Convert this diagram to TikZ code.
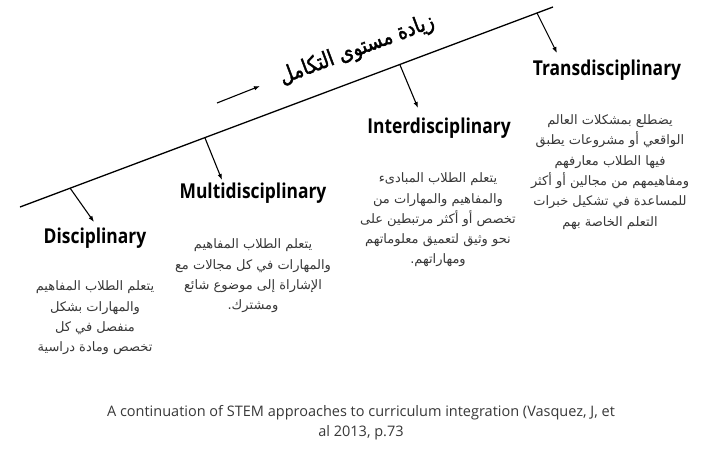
\documentclass[tikz,border=0pt]{standalone}
\usepackage{fontspec}
\usetikzlibrary{arrows.meta}
\TeXXeTstate=1
\newfontfamily\arabicfont[Script=Arabic]{DejaVu Sans}
\newfontfamily\arabicbold[Script=Arabic,FakeBold=1.8,FakeStretch=0.85]{DejaVu Sans}
\newfontfamily\titlefont[FakeStretch=0.85]{Open Sans}
\newfontfamily\capfont{Open Sans}
\definecolor{bodygray}{HTML}{383838}
\newcommand{\rl}[1]{\beginR #1\endR}
\begin{document}
\begin{tikzpicture}[x=1pt,y=-1pt,
  axis/.style={line width=1.3pt},
  tick/.style={line width=1.1pt,-{Latex[length=6pt,width=4.5pt]}},
  heading/.style={font=\titlefont\bfseries\fontsize{20.5}{24}\selectfont, text=black, inner sep=0},
  body/.style={font=\arabicfont\fontsize{13}{20.3}\selectfont, text=bodygray, align=center, inner sep=0},
  arhead/.style={font=\arabicbold\fontsize{22}{24}\selectfont, text=black, inner sep=0, rotate=20.5},
  caption/.style={font=\capfont\fontsize{14.5}{20}\selectfont, text=bodygray, align=center, inner sep=0}]
\useasboundingbox (0,0) rectangle (722,452);
\fill[white] (0,0) rectangle (722,452);
% main axis
\coordinate (L0) at (20,207);
\coordinate (L1) at (553,7);
\draw[axis] (L0) -- (L1);
% direction arrow and title
\coordinate (A0) at (217,103);
\coordinate (A1) at (260,86);
\draw[tick] (A0) -- (A1);
\node[arhead] (title) at (357,50) {\rl{زيادة مستوى التكامل}};
% tick arrows
\coordinate (sD) at (70,188);
\coordinate (eD) at (94,222);
\coordinate (sM) at (205,138);
\coordinate (eM) at (222,180);
\coordinate (sI) at (400,65);
\coordinate (eI) at (418,108);
\coordinate (sT) at (537,13);
\coordinate (eT) at (557,53);
\draw[tick] (sD) -- (eD);
\draw[tick] (sM) -- (eM);
\draw[tick] (sI) -- (eI);
\draw[tick] (sT) -- (eT);
% headings
\node[heading] (hD) at (95,238) {Disciplinary};
\node[heading] (hM) at (253,193) {Multidisciplinary};
\node[heading] (hI) at (439,128) {Interdisciplinary};
\node[heading] (hT) at (607,70) {Transdisciplinary};
% bodies
\node[body] (bD) at (95,318) {\rl{يتعلم الطلاب المفاهيم}\\ \rl{والمهارات بشكل}\\ \rl{منفصل في كل}\\ \rl{تخصص ومادة دراسية}};
\node[body] (bM) at (253,276) {\rl{يتعلم الطلاب المفاهيم}\\ \rl{والمهارات في كل مجالات مع}\\ \rl{الإشاراة إلى موضوع شائع}\\ \rl{ومشترك.}};
\node[body] (bI) at (438,220) {\rl{يتعلم الطلاب المبادىء}\\ \rl{والمفاهيم والمهارات من}\\ \rl{تخصص أو أكثر مرتبطين على}\\ \rl{نحو وثيق لتعميق معلوماتهم}\\ \rl{ومهاراتهم.}};
\node[body] (bT) at (610,172) {\rl{يضطلع بمشكلات العالم}\\ \rl{الواقعي أو مشروعات يطبق}\\ \rl{فيها الطلاب معارفهم}\\ \rl{ومفاهيمهم من مجالين أو أكثر}\\ \rl{للمساعدة في تشكيل خبرات}\\ \rl{التعلم الخاصة بهم}};
% caption
\node[caption] (cap) at (361,423) {A continuation of STEM approaches to curriculum integration (Vasquez, J, et\\ al 2013, p.73};
\end{tikzpicture}
\end{document}
